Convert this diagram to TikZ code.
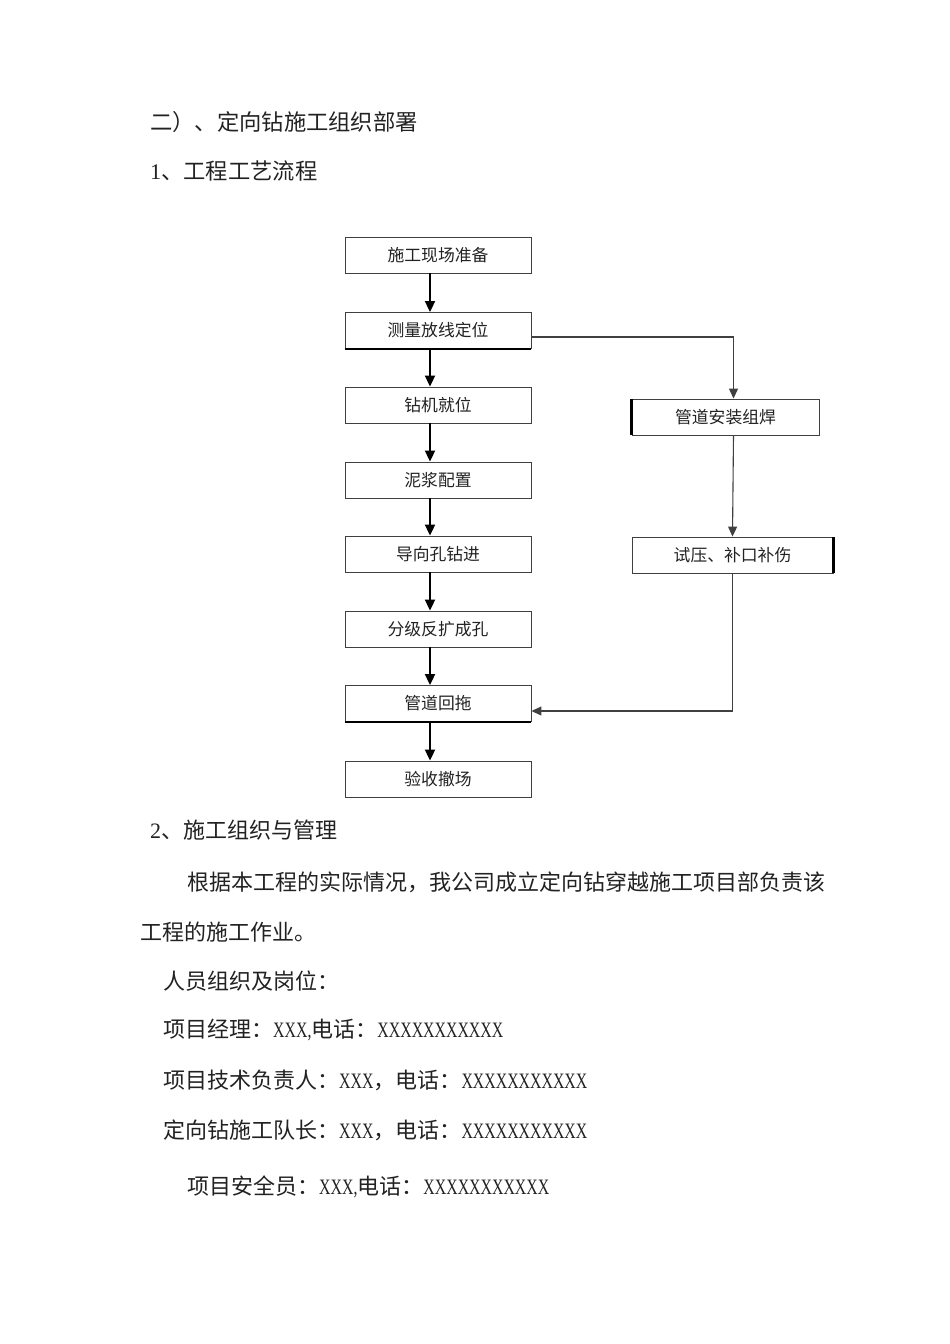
\documentclass[tikz,border=0pt]{standalone}
\usepackage{fontspec}
\setmainfont{Liberation Serif}
\newfontfamily\cjk{Noto Sans CJK SC}
\newfontfamily\lat[FakeStretch=0.72]{Liberation Serif}
\newfontfamily\dig{Liberation Serif}
\usetikzlibrary{arrows.meta}
\definecolor{ink}{HTML}{222222}
\tikzset{
  box/.style={draw=black!75, line width=0.9pt, minimum height=36pt, inner sep=0pt, text=ink, font=\cjk\fontsize{16.8}{18}\selectfont},
  txt/.style={anchor=west, inner sep=0pt, text=ink, font=\cjk\fontsize{22}{24}\selectfont},
  arr/.style={-{Triangle[width=10pt,length=11pt]}, line width=2pt, black},
  arrr/.style={-{Triangle[width=9pt,length=10pt]}, line width=1.1pt, black!75},
  thk/.style={line width=2.4pt, black}
}
\begin{document}
\begin{tikzpicture}[x=1pt,y=-1pt]
\useasboundingbox (0,0) rectangle (950,1344);
\fill[white] (0,0) rectangle (950,1344);

% headings
\node[txt,font=\cjk\fontsize{22.3}{24}\selectfont] (h1) at (150,122) {二）、定向钻施工组织部署};
\node[txt,font=\cjk\fontsize{22.3}{24}\selectfont] (h2) at (150,171) {{\dig 1}、工程工艺流程};

% flowchart boxes
\node[box, minimum width=186pt] (b1) at (438,255) {施工现场准备};
\node[box, minimum width=186pt] (b2) at (438,330.5) {测量放线定位};
\node[box, minimum width=186pt] (b3) at (438,405) {钻机就位};
\node[box, minimum width=186pt] (b4) at (438,480) {泥浆配置};
\node[box, minimum width=186pt] (b5) at (438,554) {导向孔钻进};
\node[box, minimum width=186pt] (b6) at (438,629) {分级反扩成孔};
\node[box, minimum width=186pt] (b7) at (438,703.5) {管道回拖};
\node[box, minimum width=186pt] (b8) at (438,779) {验收撤场};
\node[box, minimum width=187pt] (r1) at (725.5,417) {管道安装组焊};
\node[box, minimum width=201pt] (r2) at (732.5,555) {试压、补口补伤};

% thick shadow edges
\draw[thk] (b2.south west) -- (b2.south east);
\draw[thk] (b7.south west) -- (b7.south east);
\draw[thk] (r1.south west) -- (r1.north west);
\draw[thk] (r2.south east) -- (r2.north east);

% left column arrows
\draw[arr] ([xshift=-8pt]b1.south) -- ([xshift=-8pt]b2.north);
\draw[arr] ([xshift=-8pt]b2.south) -- ([xshift=-8pt]b3.north);
\draw[arr] ([xshift=-8pt]b3.south) -- ([xshift=-8pt]b4.north);
\draw[arr] ([xshift=-8pt]b4.south) -- ([xshift=-8pt]b5.north);
\draw[arr] ([xshift=-8pt]b5.south) -- ([xshift=-8pt]b6.north);
\draw[arr] ([xshift=-8pt]b6.south) -- ([xshift=-8pt]b7.north);
\draw[arr] ([xshift=-8pt]b7.south) -- ([xshift=-8pt]b8.north);

% right branch
\draw[arrr] ([yshift=-6.5pt]b2.east) -| ([xshift=8pt]r1.north);
\draw[arrr] ([xshift=8pt]r1.south) -- (r2.north);
\draw[arrr] (r2.south) |- ([yshift=-7.5pt]b7.east);

% body text
\node[txt] (t1) at (150,830) {{\dig 2}、施工组织与管理};
\node[txt] (t2) at (187,882) {根据本工程的实际情况，我公司成立定向钻穿越施工项目部负责该};
\node[txt] (t3) at (140,932) {工程的施工作业。};
\node[txt] (t4) at (163,981) {人员组织及岗位：};
\node[txt] (t5) at (163,1030) {项目经理：{\lat XXX,}电话：{\lat XXXXXXXXXXX}};
\node[txt] (t6) at (163,1080) {项目技术负责人：{\lat XXX}，电话：{\lat XXXXXXXXXXX}};
\node[txt] (t7) at (163,1130) {定向钻施工队长：{\lat XXX}，电话：{\lat XXXXXXXXXXX}};
\node[txt] (t8) at (187,1187) {项目安全员：{\lat XXX,}电话：{\lat XXXXXXXXXXX}};
\end{tikzpicture}
\end{document}
